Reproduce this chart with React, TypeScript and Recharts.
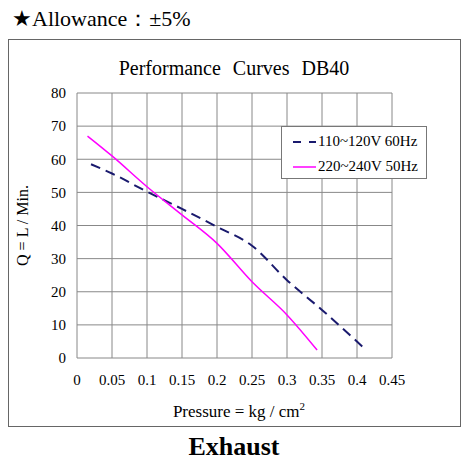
import { LineChart, Line, XAxis, YAxis, CartesianGrid } from 'recharts';

const pressureTicks = [0, 0.05, 0.1, 0.15, 0.2, 0.25, 0.3, 0.35, 0.4, 0.45];
const flowTicks = [0, 10, 20, 30, 40, 50, 60, 70, 80];

const pressure60Hz = [0.02, 0.05, 0.1, 0.15, 0.2, 0.25, 0.3, 0.35, 0.41];
const flow60Hz = [58.5, 55.7, 50.2, 45, 39.6, 33.9, 23.5, 14.5, 3];

const pressure50Hz = [0.015, 0.05, 0.1, 0.15, 0.2, 0.25, 0.3, 0.343];
const flow50Hz = [67, 61, 51.7, 43.2, 34.6, 23, 13, 2.4];

const seriesNames = ['110~120V 60Hz', '220~240V 50Hz'];

const data60 = pressure60Hz.map((p, i) => ({ p, q: flow60Hz[i] }));
const data50 = pressure50Hz.map((p, i) => ({ p, q: flow50Hz[i] }));

const serif = '"Liberation Serif", "Times New Roman", serif';

function LegendBox() {
  return (
    <div
      style={{
        position: 'absolute',
        left: 281,
        top: 126,
        background: '#fff',
        border: '1px solid #777',
        width: 146,
        height: 53,
        fontFamily: serif,
        fontSize: 15,
        color: '#000',
        boxSizing: 'border-box',
        padding: '2px 0 0 10px',
      }}
    >
      <div style={{ display: 'flex', alignItems: 'center', height: 25 }}>
        <svg width={26} height={10}>
          <line x1={1} y1={5} x2={24} y2={5} stroke="#1a1a6e" strokeWidth={2} strokeDasharray="8 8" />
        </svg>
        <span>{seriesNames[0]}</span>
      </div>
      <div style={{ display: 'flex', alignItems: 'center', height: 25 }}>
        <svg width={26} height={10}>
          <line x1={1} y1={5} x2={24} y2={5} stroke="#ff00ff" strokeWidth={1.5} />
        </svg>
        <span>{seriesNames[1]}</span>
      </div>
    </div>
  );
}

export default function App() {
  return (
    <div style={{ position: 'absolute', left: 0, top: 0, width: 468, height: 468, background: '#fff', fontFamily: serif }}>
      <div style={{ position: 'absolute', left: 12, top: 4, fontSize: 22, color: '#000', whiteSpace: 'pre' }}>
        ★Allowance：±5%
      </div>
      <div
        style={{
          position: 'absolute',
          left: 8,
          top: 39,
          width: 453,
          height: 388,
          border: '1px solid #666',
          boxSizing: 'border-box',
        }}
      />
      <div
        style={{
          position: 'absolute',
          left: 0,
          width: 468,
          top: 57,
          textAlign: 'center',
          fontSize: 20,
          whiteSpace: 'pre',
          wordSpacing: 7,
        }}
      >
        Performance Curves DB40
      </div>
      <div style={{ position: 'absolute', left: 0, top: 0 }}>
        <LineChart width={468} height={468} margin={{ top: 93, right: 76, left: 17, bottom: 80 }}>
          <CartesianGrid stroke="#888" strokeWidth={1} />
          <XAxis
            type="number"
            dataKey="p"
            domain={[0, 0.45]}
            ticks={pressureTicks}
            interval={0}
            tickLine={false}
            axisLine={false}
            tickSize={0}
            tickMargin={16}
            height={30}
            tick={{ fill: '#000', fontSize: 15, fontFamily: serif }}
            allowDataOverflow
          />
          <YAxis
            type="number"
            dataKey="q"
            domain={[0, 80]}
            ticks={flowTicks}
            interval={0}
            tickLine={false}
            axisLine={false}
            tickSize={0}
            tickMargin={11}
            width={60}
            tick={{ fill: '#000', fontSize: 15, fontFamily: serif }}
            label={{
              value: 'Q = L / Min.',
              angle: -90,
              position: 'insideLeft',
              offset: 5,
              style: { textAnchor: 'middle', fill: '#000', fontSize: 16, fontFamily: serif },
            }}
          />
          <Line
            data={data60}
            dataKey="q"
            name={seriesNames[0]}
            type="monotone"
            stroke="#1a1a6e"
            strokeWidth={2}
            strokeDasharray="10 6"
            dot={false}
            isAnimationActive={false}
          />
          <Line
            data={data50}
            dataKey="q"
            name={seriesNames[1]}
            type="monotone"
            stroke="#ff00ff"
            strokeWidth={1.5}
            dot={false}
            isAnimationActive={false}
          />
        </LineChart>
      </div>
      <LegendBox />
      <div style={{ position: 'absolute', left: 0, width: 478, top: 400, textAlign: 'center', fontSize: 17 }}>
        Pressure = kg / cm<sup style={{ fontSize: 11 }}>2</sup>
      </div>
      <div
        style={{
          position: 'absolute',
          left: 0,
          width: 468,
          top: 432,
          textAlign: 'center',
          fontSize: 26,
          fontWeight: 'bold',
        }}
      >
        Exhaust
      </div>
    </div>
  );
}
